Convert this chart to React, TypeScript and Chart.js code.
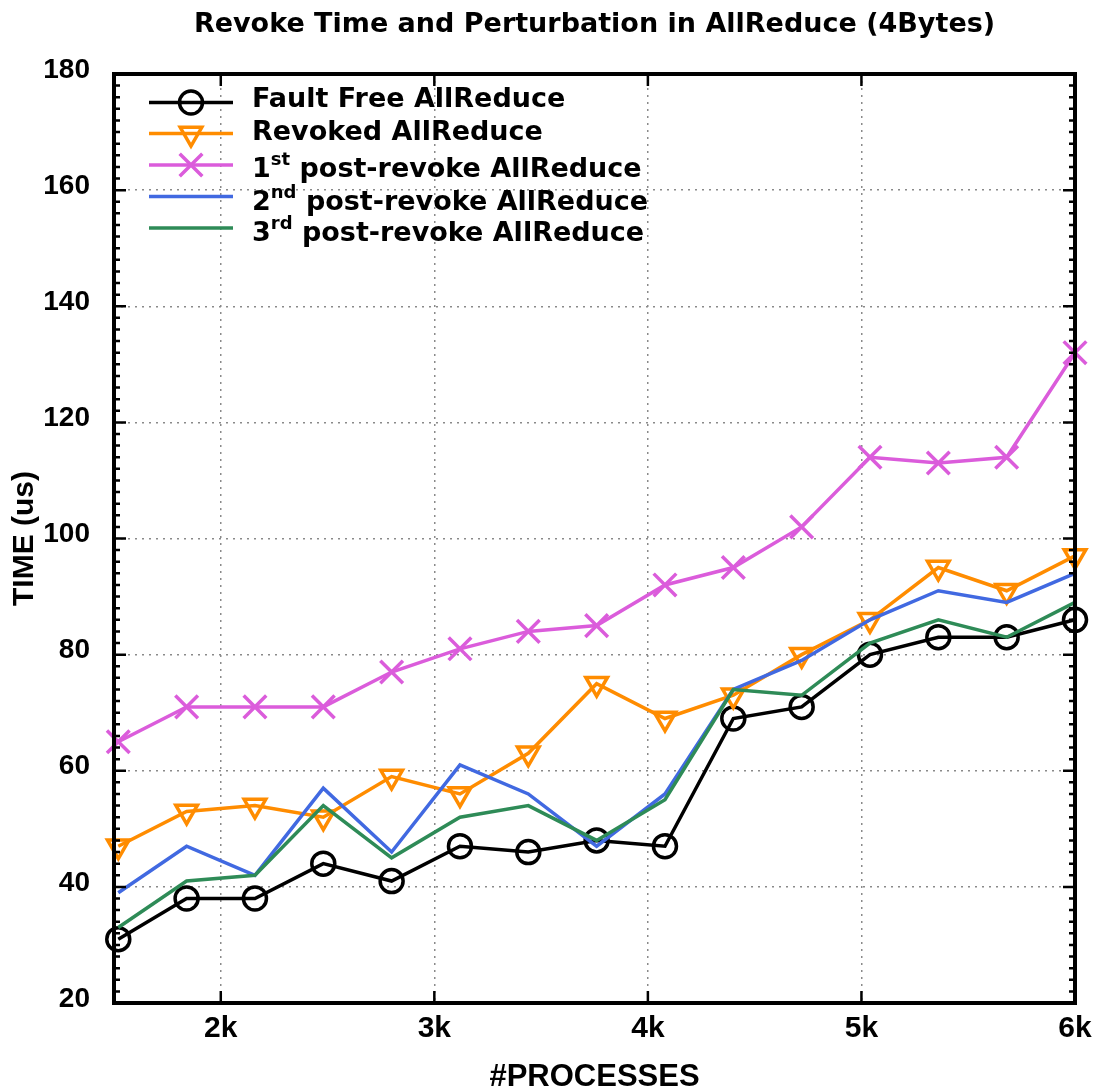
import React, { useEffect, useRef } from 'react';
import { Chart, registerables } from 'chart.js';

Chart.register(...registerables);

// Number of processes for each measurement
const processes = [1520, 1840, 2160, 2480, 2800, 3120, 3440, 3760, 4080, 4400, 4720, 5040, 5360, 5680, 6000];

// Times in microseconds
const faultFree = [31, 38, 38, 44, 41, 47, 46, 48, 47, 69, 71, 80, 83, 83, 86];
const revoked = [47, 53, 54, 52, 59, 56, 63, 75, 69, 73, 80, 86, 95, 91, 97];
const postRevoke1 = [65, 71, 71, 71, 77, 81, 84, 85, 92, 95, 102, 114, 113, 114, 132];
const postRevoke2 = [39, 47, 42, 57, 46, 61, 56, 47, 56, 74, 79, 86, 91, 89, 94];
const postRevoke3 = [33, 41, 42, 54, 45, 52, 54, 48, 55, 74, 73, 82, 86, 83, 89];

const xTickValues = [2000, 3000, 4000, 5000, 6000];
const xTickLabels = ['2k', '3k', '4k', '5k', '6k'];
const yTickValues = [20, 40, 60, 80, 100, 120, 140, 160, 180];

const chartTitle = 'Revoke Time and Perturbation in AllReduce (4Bytes)';
const xAxisTitle = '#PROCESSES';
const yAxisTitle = 'TIME (us)';

type Marker = 'circle' | 'triangleDown' | 'cross' | 'none';

const series: { lead: string; sup: string; rest: string; data: number[]; color: string; marker: Marker }[] = [
  { lead: 'Fault Free AllReduce', sup: '', rest: '', data: faultFree, color: '#000000', marker: 'circle' },
  { lead: 'Revoked AllReduce', sup: '', rest: '', data: revoked, color: '#FF8C00', marker: 'triangleDown' },
  { lead: '1', sup: 'st', rest: ' post-revoke AllReduce', data: postRevoke1, color: '#DB5CDB', marker: 'cross' },
  { lead: '2', sup: 'nd', rest: ' post-revoke AllReduce', data: postRevoke2, color: '#4169E1', marker: 'none' },
  { lead: '3', sup: 'rd', rest: ' post-revoke AllReduce', data: postRevoke3, color: '#2E8B57', marker: 'none' },
];

const TICK_FONT = 'Liberation Sans';
const TEXT_FONT = 'DejaVu Sans';
const LINE_W = 3.5;
const CIRCLE_R = 11.5;
const TRI_R = 12.5;
const CROSS_R = 16;

function drawMarker(ctx: CanvasRenderingContext2D, marker: Marker, x: number, y: number, color: string) {
  if (marker === 'none') return;
  ctx.save();
  ctx.strokeStyle = color;
  ctx.lineWidth = LINE_W;
  ctx.beginPath();
  if (marker === 'circle') {
    ctx.arc(x, y, CIRCLE_R, 0, Math.PI * 2);
  } else if (marker === 'triangleDown') {
    let a = Math.PI;
    ctx.moveTo(x + Math.sin(a) * TRI_R, y - Math.cos(a) * TRI_R);
    a += (2 * Math.PI) / 3;
    ctx.lineTo(x + Math.sin(a) * TRI_R, y - Math.cos(a) * TRI_R);
    a += (2 * Math.PI) / 3;
    ctx.lineTo(x + Math.sin(a) * TRI_R, y - Math.cos(a) * TRI_R);
    ctx.closePath();
  } else {
    const d = CROSS_R * Math.SQRT1_2;
    ctx.moveTo(x - d, y - d);
    ctx.lineTo(x + d, y + d);
    ctx.moveTo(x + d, y - d);
    ctx.lineTo(x - d, y + d);
  }
  ctx.stroke();
  ctx.restore();
}

// Border, inward tick marks, titles and the in-plot key
const decorations = {
  id: 'decorations',
  afterDatasetsDraw(chart: Chart) {
    const { ctx, chartArea } = chart;
    const { left, right, top, bottom } = chartArea;
    const xs = chart.scales.x;
    const ys = chart.scales.y;
    ctx.save();

    // tick marks on all four sides
    ctx.strokeStyle = '#000';
    ctx.lineWidth = 2.5;
    ctx.beginPath();
    for (let v = ys.min; v <= ys.max + 1e-9; v += 2) {
      const py = ys.getPixelForValue(v);
      const len = v % 20 === 0 ? 12 : 6;
      ctx.moveTo(left, py);
      ctx.lineTo(left + len, py);
      ctx.moveTo(right, py);
      ctx.lineTo(right - len, py);
    }
    for (const v of xTickValues) {
      const px = xs.getPixelForValue(v);
      ctx.moveTo(px, bottom);
      ctx.lineTo(px, bottom - 12);
      ctx.moveTo(px, top);
      ctx.lineTo(px, top + 12);
    }
    ctx.stroke();

    // frame
    ctx.lineWidth = 4;
    ctx.strokeRect(left, top, right - left, bottom - top);

    const cx = (left + right) / 2;
    ctx.fillStyle = '#000';

    // chart title
    ctx.font = `bold 27px "${TEXT_FONT}"`;
    ctx.textAlign = 'center';
    ctx.textBaseline = 'alphabetic';
    ctx.fillText(chartTitle, cx, 32);

    // x axis title
    ctx.font = `bold 31px "${TICK_FONT}"`;
    ctx.fillText(xAxisTitle, cx, 1086);

    // y axis title
    ctx.save();
    ctx.translate(25, (top + bottom) / 2);
    ctx.rotate(-Math.PI / 2);
    ctx.font = `bold 30px "${TICK_FONT}"`;
    ctx.textBaseline = 'middle';
    ctx.fillText(yAxisTitle, 0, 0);
    ctx.restore();

    // key
    const rowY = [102.5, 133.5, 165, 196.5, 228];
    const baseY = [107, 139.5, 177, 210, 241];
    ctx.textAlign = 'left';
    series.forEach((s, i) => {
      ctx.strokeStyle = s.color;
      ctx.lineWidth = LINE_W;
      ctx.beginPath();
      ctx.moveTo(149, rowY[i]);
      ctx.lineTo(233, rowY[i]);
      ctx.stroke();
      drawMarker(ctx, s.marker, 191, rowY[i], s.color);

      let tx = 252;
      ctx.fillStyle = '#000';
      ctx.font = `bold 27px "${TEXT_FONT}"`;
      ctx.fillText(s.lead, tx, baseY[i]);
      tx += ctx.measureText(s.lead).width;
      if (s.sup) {
        ctx.font = `bold 18px "${TEXT_FONT}"`;
        ctx.fillText(s.sup, tx, baseY[i] - 12);
        tx += ctx.measureText(s.sup).width;
        ctx.font = `bold 27px "${TEXT_FONT}"`;
        ctx.fillText(s.rest, tx, baseY[i]);
      }
    });

    ctx.restore();
  },
};

export default function App() {
  const canvasRef = useRef<HTMLCanvasElement | null>(null);

  useEffect(() => {
    const canvas = canvasRef.current;
    if (!canvas) return;
    const order = [5, 4, 3, 2, 1];
    const chart = new Chart(canvas, {
      type: 'line',
      data: {
        datasets: series.map((s, i) => ({
          label: s.lead + s.sup + s.rest,
          data: processes.map((x, j) => ({ x, y: s.data[j] })),
          borderColor: s.color,
          borderWidth: LINE_W,
          borderJoinStyle: 'miter' as const,
          tension: 0,
          fill: false,
          clip: false as const,
          order: order[i],
          pointStyle: s.marker === 'circle' ? 'circle' : s.marker === 'triangleDown' ? 'triangle' : 'crossRot',
          pointRotation: s.marker === 'triangleDown' ? 180 : 0,
          pointRadius: s.marker === 'none' ? 0 : s.marker === 'circle' ? CIRCLE_R : s.marker === 'triangleDown' ? TRI_R : CROSS_R,
          pointBorderWidth: LINE_W,
          pointBorderColor: s.color,
          pointBackgroundColor: 'rgba(0,0,0,0)',
          pointHoverRadius: 0,
        })),
      },
      options: {
        responsive: false,
        animation: false,
        devicePixelRatio: 1,
        events: [],
        layout: { padding: { left: 0, right: 20, top: 74, bottom: 0 } },
        plugins: {
          legend: { display: false },
          title: { display: false },
          tooltip: { enabled: false },
        },
        scales: {
          x: {
            type: 'linear',
            min: 1500,
            max: 6000,
            afterFit: (scale: any) => {
              scale.height = 86;
              scale.paddingLeft = 0;
              scale.paddingRight = 0;
            },
            afterBuildTicks: (scale: any) => {
              scale.ticks = xTickValues.map((value) => ({ value }));
            },
            ticks: {
              padding: 8,
              color: '#000',
              font: { family: TICK_FONT, weight: 'bold', size: 30, lineHeight: 1.2 },
              callback: (value: any) => xTickLabels[xTickValues.indexOf(Number(value))] ?? '',
              maxRotation: 0,
            },
            grid: { color: '#8a8a8a', lineWidth: 1.5, drawTicks: false },
            border: { display: false, dash: [2, 5] },
          },
          y: {
            type: 'linear',
            min: 20,
            max: 180,
            afterFit: (scale: any) => {
              scale.width = 114;
              scale.paddingTop = 0;
              scale.paddingBottom = 0;
            },
            afterBuildTicks: (scale: any) => {
              scale.ticks = yTickValues.map((value) => ({ value }));
            },
            ticks: {
              padding: 24,
              labelOffset: -4,
              color: '#000',
              font: { family: TICK_FONT, weight: 'bold', size: 28 },
            },
            grid: { color: '#8a8a8a', lineWidth: 1.5, drawTicks: false },
            border: { display: false, dash: [2, 5] },
          },
        },
      },
      plugins: [decorations],
    });
    return () => chart.destroy();
  }, []);

  return (
    <div style={{ position: 'fixed', left: 0, top: 0, width: 1095, height: 1089, background: '#fff' }}>
      <canvas ref={canvasRef} width={1095} height={1089} style={{ display: 'block' }} />
    </div>
  );
}
